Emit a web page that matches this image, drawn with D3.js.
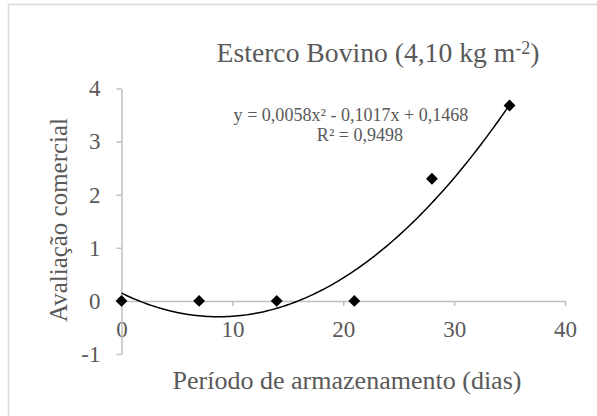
<!DOCTYPE html>
<html><head><meta charset="utf-8">
<script src="https://cdn.jsdelivr.net/npm/d3@7"></script>
<style>body{margin:0;background:#fff}svg{display:block}</style>
</head><body>
<svg id="c" width="597" height="416"></svg>
<script>
const days = [0, 7, 14, 21, 28, 35];
const scores = [0, 0, 0, 0, 2.3, 3.68];
const xTicks = [0, 10, 20, 30, 40];
const yTicks = [-1, 0, 1, 2, 3, 4];
const coef = [0.1468, -0.1017, 0.0058]; // c, b, a
const titleText = "Esterco Bovino (4,10 kg m";
const titleSup = "-2";
const eqText = "y = 0,0058x² - 0,1017x + 0,1468";
const r2Text = "R² = 0,9498";
const xLabel = "Período de armazenamento (dias)";
const yLabel = "Avaliação comercial";

const FONT = "'Liberation Serif', serif";
const TXT = "#595959";
const AX = "#bfbfbf";
const svg = d3.select("#c");

// fit a text element's font-size to a target width
function fit(sel, target, base) {
  sel.style("font-size", base + "px");
  const w = sel.node().getComputedTextLength();
  const s = base * target / w;
  sel.style("font-size", s + "px");
  return s;
}

svg.append("rect").attr("x", 8.5).attr("y", 4.5).attr("width", 620).attr("height", 440)
  .attr("fill", "#fff").attr("stroke", "#d9d9d9").attr("stroke-width", 1.5);

const x = d3.scaleLinear().domain([0, 40]).range([121.5, 565]);
const y = d3.scaleLinear().domain([-1, 4]).range([354, 88.5]);

const TICK_FS = 23;
const xAxis = svg.append("g").attr("transform", `translate(0,${y(0)})`)
  .call(d3.axisBottom(x).tickValues(xTicks).tickSize(5).tickSizeOuter(0).tickPadding(15).tickFormat(d3.format("d")));
const yAxis = svg.append("g").attr("transform", `translate(${x(0)},0)`)
  .call(d3.axisLeft(y).tickValues(yTicks).tickSize(5).tickSizeOuter(0).tickPadding(16).tickFormat(d => d < 0 ? "-" + Math.abs(d) : d));
[xAxis, yAxis].forEach(g => {
  g.select(".domain").attr("stroke", AX).attr("stroke-width", 1.5);
  g.selectAll(".tick line").attr("stroke", AX).attr("stroke-width", 1.5);
  g.selectAll(".tick text").attr("fill", TXT).style("font-family", FONT).style("font-size", TICK_FS + "px");
});

// trend line
const fx = d3.range(0, 35.01, 0.25);
const line = d3.line().x(d => x(d)).y(d => y(coef[0] + coef[1] * d + coef[2] * d * d));
svg.append("path").datum(fx).attr("d", line).attr("fill", "none").attr("stroke", "#000").attr("stroke-width", 1.5);

// points
svg.append("g").selectAll("path").data(days.map((d, i) => [d, scores[i]])).join("path")
  .attr("transform", d => `translate(${x(d[0])},${y(d[1])})`)
  .attr("d", d3.symbol().type(d3.symbolDiamond2).size(90))
  .attr("fill", "#000");

// title
const t = svg.append("text").attr("x", 378).attr("y", 62).attr("text-anchor", "middle")
  .attr("fill", TXT).style("font-family", FONT);
t.append("tspan").text(titleText);
const sup = t.append("tspan").text(titleSup).attr("dy", -8).attr("class", "sup");
t.append("tspan").text(")").attr("dy", 8);
sup.style("font-size", "0.65em");
fit(t, 323, 22);

const eq = svg.append("text").attr("x", 351).attr("y", 121).attr("text-anchor", "middle")
  .attr("fill", TXT).style("font-family", FONT).text(eqText);
const eqSize = fit(eq, 235, 15);
svg.append("text").attr("x", 360).attr("y", 141).attr("text-anchor", "middle")
  .attr("fill", TXT).style("font-family", FONT).style("font-size", eqSize + "px").text(r2Text);

const xl = svg.append("text").attr("x", 347).attr("y", 389).attr("text-anchor", "middle")
  .attr("fill", TXT).style("font-family", FONT).text(xLabel);
fit(xl, 349, 22);
const yl = svg.append("text").attr("transform", "translate(67,220) rotate(-90)").attr("text-anchor", "middle")
  .attr("fill", TXT).style("font-family", FONT).text(yLabel);
fit(yl, 204, 22);
</script>
</body></html>
